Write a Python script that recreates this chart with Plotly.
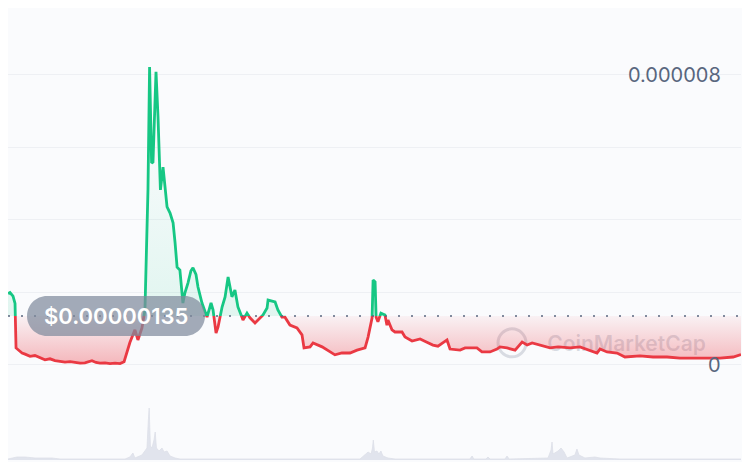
import plotly.graph_objects as go

# ---------------- data ----------------
# time in days from the start of the 1-year window, price in millionths of a dollar
price_days = [0, 1.0, 2.5, 3.5, 4.0, 5.5, 7.0, 8.5, 11.0, 13.4, 15.9, 18.4, 20.9, 23.4, 25.9,
              28.4, 30.9, 33.4, 35.9, 38.3, 41.8, 43.8, 45.8, 48.3, 50.8, 53.3, 55.8, 57.8,
              59.3, 60.7, 63.2, 64.7, 66.7, 68.2, 69.7, 70.5, 71.5, 72.2, 73.7, 74.7, 75.9,
              77.2, 78.2, 79.2, 80.7, 82.2, 83.2, 84.2, 85.6, 87.1, 88.1, 89.6, 91.1, 92.1,
              93.6, 94.6, 96.6, 99.1, 101.1, 102.1, 103.6, 104.6, 106.6, 108.1, 109.6, 111.5,
              113.0, 114.5, 116.5, 117.0, 119.0, 120.5, 123.0, 124.5, 127.0, 129.0, 129.5,
              133.0, 134.4, 136.4, 137.9, 140.4, 143.9, 146.4, 147.4, 150.4, 151.9, 156.4,
              159.3, 162.8, 166.3, 170.3, 173.8, 177.8, 179.3, 181.3, 181.8, 182.8, 183.3,
              184.2, 185.7, 187.7, 188.7, 189.2, 191.2, 192.7, 196.2, 197.7, 201.2, 205.2,
              208.6, 211.6, 214.1, 218.6, 220.1, 225.1, 227.6, 233.5, 236.0, 240.0, 243.5,
              245.0, 248.5, 252.5, 256.0, 258.5, 261.0, 264.9, 269.9, 273.9, 279.9, 284.8,
              288.8, 293.3, 294.8, 298.3, 303.3, 307.2, 314.7, 321.2, 328.2, 334.6, 341.1,
              349.6, 354.6, 361.1, 365.0]
price_micro = [1.97, 2.00, 1.90, 1.70, 0.47, 0.39, 0.33, 0.30, 0.24, 0.26, 0.20, 0.14, 0.17,
               0.12, 0.10, 0.08, 0.09, 0.06, 0.05, 0.06, 0.12, 0.07, 0.05, 0.06, 0.04, 0.05,
               0.04, 0.09, 0.35, 0.62, 0.97, 0.69, 1.02, 1.52, 4.83, 8.22, 5.57, 5.60, 8.09,
               6.84, 4.83, 5.46, 4.83, 4.36, 4.19, 3.92, 3.37, 2.70, 2.62, 1.71, 1.99, 2.26,
               2.60, 2.68, 2.50, 2.15, 1.71, 1.32, 1.71, 1.52, 0.88, 1.05, 1.60, 1.88, 2.43,
               1.88, 2.07, 1.60, 1.32, 1.24, 1.43, 1.30, 1.16, 1.24, 1.38, 1.57, 1.79, 1.74,
               1.52, 1.32, 1.32, 1.10, 1.02, 0.83, 0.47, 0.50, 0.61, 0.50, 0.41, 0.28, 0.33,
               0.33, 0.41, 0.47, 0.77, 1.30, 2.34, 2.29, 1.32, 1.19, 1.43, 1.38, 1.10, 1.24,
               0.97, 0.91, 0.91, 0.77, 0.66, 0.72, 0.63, 0.55, 0.52, 0.69, 0.44, 0.41, 0.47,
               0.47, 0.36, 0.36, 0.44, 0.50, 0.47, 0.41, 0.63, 0.55, 0.61, 0.55, 0.47, 0.50,
               0.47, 0.50, 0.41, 0.33, 0.44, 0.36, 0.33, 0.22, 0.25, 0.22, 0.22, 0.19, 0.19,
               0.19, 0.19, 0.22, 0.29]

volume_days = [0, 4.5, 8.5, 13.4, 21.9, 25.9, 58.3, 60.7, 62.2, 63.2, 66.7, 68.2, 69.2, 69.9,
               70.3, 70.9, 71.7, 72.7, 73.3, 73.9, 75.2, 76.7, 77.7, 79.2, 80.7, 83.2, 85.6,
               175.3, 177.3, 179.3, 180.8, 181.5, 181.9, 182.5, 183.7, 184.7, 185.7, 186.7,
               189.2, 192.7, 230.0, 231.1, 232.0, 238.0, 239.0, 240.0, 247.5, 248.5, 249.5,
               268.9, 270.4, 270.9, 271.4, 273.9, 275.4, 276.9, 278.4, 282.3, 283.3, 284.3,
               287.3, 292.3, 294.8, 304.7, 365.0]
volume_vals = [1, 3, 3, 2, 2, 1, 1, 3, 7, 2, 5, 10, 12, 40, 52, 14, 12, 20, 28, 12, 9, 12, 8,
               9, 4, 2, 1, 1, 5, 8, 6, 12, 20, 8, 9, 6, 9, 4, 2, 1, 1, 4, 1, 1, 3, 1, 1, 4, 1,
               2, 10, 18, 6, 9, 12, 8, 2, 5, 11, 5, 2, 3, 2, 1, 1]

base_price_micro = 1.35
base_label = "$0.00000135"
grid_vals_micro = [0, 2, 4, 6, 8]
axis_labels = {0: "0", 8: "0.000008"}

# ---------------- styling / layout constants ----------------
W, H = 750, 462
BG = "#fafbfd"
GREEN = "#16c784"
RED = "#ea3943"
GREY_TXT = "#58667e"
U = 1e-6
Y_MIN, Y_MAX = -2.897, 9.848       # full-height price scale (millionths)
X0, X1 = 0, 365

prices = [p * U for p in price_micro]
base = base_price_micro * U
split = (base_price_micro - Y_MIN) / (Y_MAX - Y_MIN)

fig = go.Figure()

# watermark (below the price traces, on the grid subplot)
fig.add_trace(go.Scatter(
    x=[308], y=[0.52 * U], mode="text", text=["CoinMarketCap"],
    textfont=dict(family="Inter", size=21, color="rgba(128,138,157,0.28)", weight=600),
    xaxis="x", yaxis="y", hoverinfo="skip", showlegend=False))

# green part: upper subplot, fill down to the (clipped) baseline
fig.add_trace(go.Scatter(
    x=price_days, y=prices, mode="lines", xaxis="x", yaxis="y2",
    line=dict(color=GREEN, width=2.8), fill="tozeroy",
    fillgradient=dict(type="vertical", start=base, stop=7 * U,
                      colorscale=[[0, "rgba(22,199,132,0.11)"], [1, "rgba(22,199,132,0.0)"]]),
    hoverinfo="skip", showlegend=False))

# red part: lower subplot, fill up to the baseline
fig.add_trace(go.Scatter(
    x=[X0, X1], y=[base, base], mode="lines", xaxis="x", yaxis="y3",
    line=dict(width=0), hoverinfo="skip", showlegend=False))
fig.add_trace(go.Scatter(
    x=price_days, y=prices, mode="lines", xaxis="x", yaxis="y3",
    line=dict(color=RED, width=2.8), fill="tonexty",
    fillgradient=dict(type="vertical", start=0, stop=base,
                      colorscale=[[0, "rgba(234,57,67,0.36)"], [1, "rgba(234,57,67,0.05)"]]),
    hoverinfo="skip", showlegend=False))

# volume
fig.add_trace(go.Scatter(
    x=volume_days, y=volume_vals, mode="lines", xaxis="x", yaxis="y4",
    line=dict(color="#dde0e9", width=0.8), fill="tozeroy", fillcolor="rgba(214,218,230,0.7)",
    hoverinfo="skip", showlegend=False))

xdom = [0, 733 / W]
fig.update_layout(
    width=W, height=H,
    margin=dict(l=0, r=0, t=0, b=0),
    paper_bgcolor=BG, plot_bgcolor="rgba(0,0,0,0)",
    showlegend=False,
    xaxis=dict(domain=xdom, range=[X0, X1], visible=False, anchor="y"),
    yaxis=dict(domain=[0, 1], range=[Y_MIN * U, Y_MAX * U], anchor="x",
               tickvals=[v * U for v in grid_vals_micro], showticklabels=False,
               showgrid=True, gridcolor="#eef0f4", gridwidth=1, zeroline=False, ticks=""),
    yaxis2=dict(domain=[split, 1], range=[base, Y_MAX * U], anchor="x", visible=False),
    yaxis3=dict(domain=[0, split], range=[Y_MIN * U, base], anchor="x", visible=False),
    yaxis4=dict(domain=[10 / H, 90 / H], range=[0, 80], anchor="x", visible=False),
)

# right-side axis labels
for v, t in axis_labels.items():
    fig.add_annotation(x=715 / W, xref="paper", xanchor="right", y=v * U, yref="y",
                       yanchor="middle", text=t, showarrow=False,
                       font=dict(family="Inter", size=20, color=GREY_TXT))

# dotted baseline
fig.add_shape(type="line", xref="x", yref="y", x0=X0, x1=X1, y0=base, y1=base,
              line=dict(color="rgba(88,102,126,0.75)", width=2, dash="2px,11px"), layer="above")

# watermark logo ring
fig.add_shape(type="circle", xref="paper", yref="y", xsizemode="pixel", ysizemode="pixel",
              xanchor=504 / W, yanchor=0.61 * U, x0=-14, x1=14, y0=-14, y1=14,
              line=dict(color="rgba(128,138,157,0.28)", width=3), layer="below")

# pill label
r, k = 20, 20 * 0.5523
L, R = 19, 197
pill = (f"M {L + r},{-r} L {R - r},{-r} "
        f"C {R - r + k},{-r} {R},{-k} {R},0 "
        f"C {R},{k} {R - r + k},{r} {R - r},{r} "
        f"L {L + r},{r} "
        f"C {L + r - k},{r} {L},{k} {L},0 "
        f"C {L},{-k} {L + r - k},{-r} {L + r},{-r} Z")
fig.add_shape(type="path", xref="paper", yref="y", xsizemode="pixel", ysizemode="pixel",
              xanchor=0, yanchor=base, path=pill,
              fillcolor="rgba(128,138,157,0.72)", line=dict(width=0), layer="above")
fig.add_annotation(x=(L + R) / 2 / W, xref="paper", xanchor="center", y=base, yref="y",
                   yanchor="middle", text=base_label, showarrow=False,
                   font=dict(family="Inter", size=22, color="white", weight=600))

fig.write_html("out.html")
